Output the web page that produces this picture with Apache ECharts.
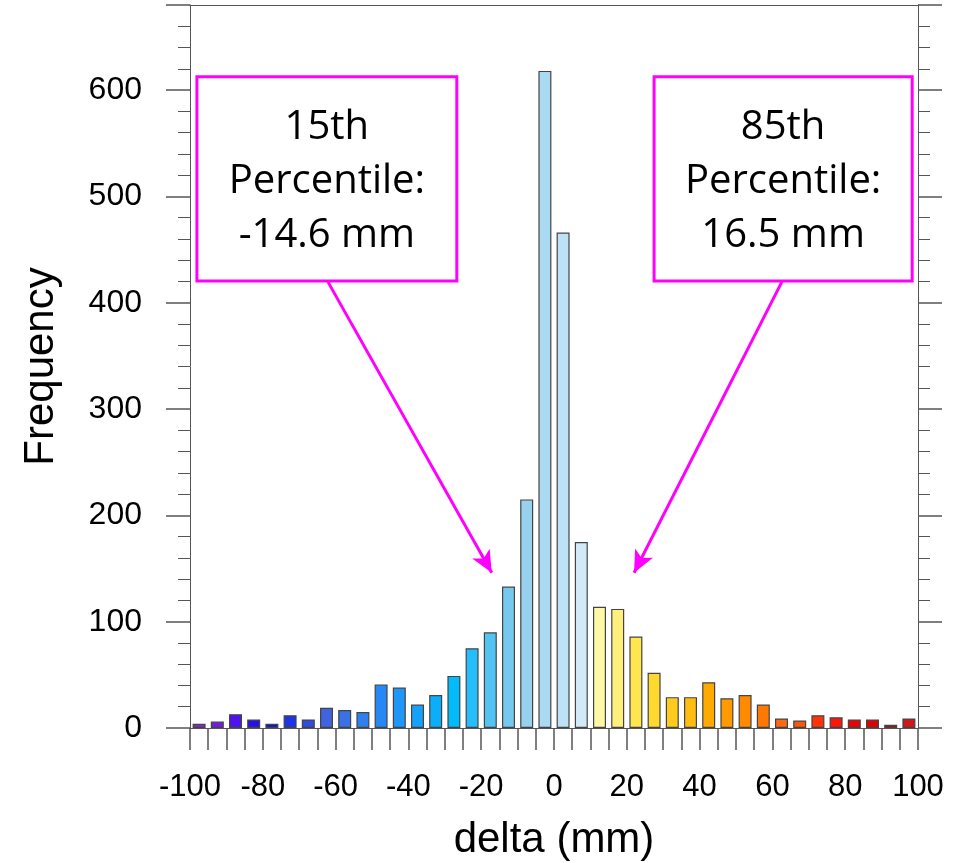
<!DOCTYPE html>
<html>
<head>
<meta charset="utf-8">
<script src="https://cdn.jsdelivr.net/npm/echarts@6/dist/echarts.min.js"></script>
<style>
html,body{margin:0;padding:0;background:#fff;}
#chart{width:956px;height:863px;}
</style>
</head>
<body>
<div id="chart"></div>
<script>
// Bin centres (mm), bin width 5 mm
const binCenters = [-97.5,-92.5,-87.5,-82.5,-77.5,-72.5,-67.5,-62.5,-57.5,-52.5,
  -47.5,-42.5,-37.5,-32.5,-27.5,-22.5,-17.5,-12.5,-7.5,-2.5,
  2.5,7.5,12.5,17.5,22.5,27.5,32.5,37.5,42.5,47.5,
  52.5,57.5,62.5,67.5,72.5,77.5,82.5,87.5,92.5,97.5];
const frequency = [4,6,13,8,4,12,8,19,17,15,
  41,38,22,31,49,75,90,133,215,618,
  466,175,114,112,86,52,29,29,43,28,
  31,22,9,7,12,10,8,8,3,9];
const barColors = ['#8a22e2','#7418ee','#4e12f2','#2410f0','#0a12e6','#1e34e8','#2c4ee4','#3f64de','#3a72e6','#2e80ee',
  '#2688f4','#1e96fa','#16a2fa','#0aaefa','#00bcfa','#26befa','#52c3f2','#76c9ee','#98d1ee','#a9daf2',
  '#bde2f6','#d2eaf8','#fff8a6','#fff07e','#ffe54e','#ffd92e','#ffcb1e','#ffbc12','#ffaa00','#ff9a00',
  '#ff8a00','#ff7800','#ff6a10','#ff5508','#ff3208','#ff1408','#f20000','#e20000','#c80000','#d01818'];
const xTicks = {min:-100, max:100, step:5, labelStep:20};
const yTicks = {min:0, max:680, step:100};
const notes = [
  {text:'15th\nPercentile:\n-14.6 mm', box:[[-98.1,612.4],[-26.7,420.5]], arrow:[[-62.1,419.6],[-17.1,146]]},
  {text:'85th\nPercentile:\n16.5 mm', box:[[27.5,612.4],[98.4,420.5]], arrow:[[62.6,419.6],[22.0,146]]}
];

const seriesData = binCenters.map((x,i)=>({value:[x,frequency[i]], itemStyle:{color:barColors[i]}}));
const axisGray = '#555';
const chart = echarts.init(document.getElementById('chart'), null, {renderer:'canvas'});
chart.setOption({
  animation:false,
  grid:{left:190,right:38,top:5,bottom:135, containLabel:false, outerBoundsMode:'none'},
  xAxis:[{
    type:'value', min:xTicks.min, max:xTicks.max, interval:xTicks.step,
    name:'delta (mm)', nameLocation:'middle', nameGap:91,
    nameTextStyle:{fontFamily:'Liberation Sans', fontSize:42, color:'#000'},
    axisLine:{show:true, onZero:false, lineStyle:{color:axisGray, width:1}},
    axisTick:{show:true, inside:false, length:22, lineStyle:{color:axisGray, width:1.5}},
    axisLabel:{margin:44, fontFamily:'Liberation Sans', fontSize:31, color:'#000',
      formatter:v=> (Math.round(v)%xTicks.labelStep===0 ? String(Math.round(v)) : '')},
    splitLine:{show:false}
  },{
    type:'value', position:'top', min:xTicks.min, max:xTicks.max,
    axisLine:{show:true, onZero:false, lineStyle:{color:axisGray, width:1}},
    axisTick:{show:false}, axisLabel:{show:false}, splitLine:{show:false}
  }],
  yAxis:[{
    type:'value', position:'left', min:yTicks.min, max:yTicks.max, interval:yTicks.step,
    name:'Frequency', nameLocation:'middle', nameGap:128, nameRotate:90,
    nameTextStyle:{fontFamily:'Liberation Sans', fontSize:42, color:'#000'},
    axisLine:{show:true, onZero:false, lineStyle:{color:axisGray, width:1}},
    axisTick:{show:true, inside:false, length:24, lineStyle:{color:axisGray, width:1.5}},
    minorTick:{show:true, splitNumber:5, length:12, lineStyle:{color:axisGray, width:1}},
    axisLabel:{margin:48, fontFamily:'Liberation Sans', fontSize:32, color:'#000', showMaxLabel:false},
    splitLine:{show:false}
  },{
    type:'value', position:'right', min:yTicks.min, max:yTicks.max, interval:yTicks.step,
    axisLine:{show:true, onZero:false, lineStyle:{color:axisGray, width:1}},
    axisTick:{show:true, inside:false, length:24, lineStyle:{color:axisGray, width:1.5}},
    minorTick:{show:true, splitNumber:5, length:12, lineStyle:{color:axisGray, width:1}},
    axisLabel:{show:false}, splitLine:{show:false}
  }],
  series:[{
    type:'bar', xAxisIndex:0, yAxisIndex:0, barWidth:13,
    data:seriesData,
    itemStyle:{borderColor:'#444', borderWidth:1.2},
    silent:true,
    markArea:{
      silent:true,
      itemStyle:{color:'#fff', borderColor:'#ff00ff', borderWidth:3},
      label:{show:true, position:'inside', offset:[0,3], fontFamily:'Open Sans', fontSize:40, lineHeight:54, color:'#000', align:'center', verticalAlign:'middle'},
      data:notes.map(n=>[{coord:n.box[0], name:n.text},{coord:n.box[1]}])
    },
    markLine:{
      silent:true, symbol:['none','arrow'], symbolSize:[15,22],
      label:{show:false},
      lineStyle:{color:'#ff00ff', width:3, type:'solid'},
      data:notes.map(n=>[{coord:n.arrow[0]},{coord:n.arrow[1]}])
    }
  }]
});
</script>
</body>
</html>
